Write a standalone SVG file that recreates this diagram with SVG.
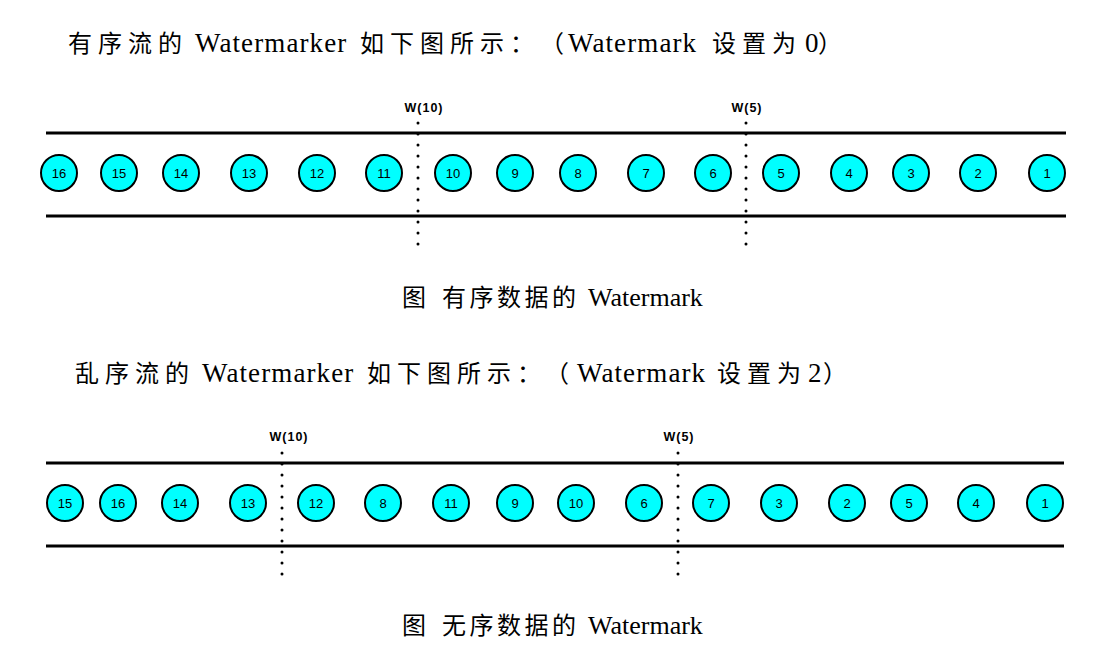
<svg xmlns="http://www.w3.org/2000/svg" width="1097" height="649" viewBox="0 0 1097 649">
<style>
.title{font-family:"Liberation Serif","Noto Sans CJK SC",serif;font-size:24px;fill:#000}
.cj{letter-spacing:6px}
.cc{letter-spacing:3.5px}
.la{font-size:27px;letter-spacing:1.1px}
.lc{font-size:26px;letter-spacing:0px}
.rail{stroke:#000;stroke-width:3}
.wm{stroke:#000;stroke-width:3;stroke-dasharray:0 11;stroke-linecap:round}
.wl{font-family:"Liberation Sans",Arial,sans-serif;font-size:12.5px;font-weight:bold;letter-spacing:1px;fill:#000;text-anchor:middle}
.ev circle{fill:#00ffff;stroke:#000;stroke-width:2}
.ev text{font-family:"Liberation Sans",Arial,sans-serif;font-size:13px;fill:#000;text-anchor:middle}
</style>
<rect width="1097" height="649" fill="#fff"/>
<text class="title" y="52"><tspan class="cj" x="68">有序流的</tspan><tspan class="la" x="195">Watermarker</tspan><tspan class="cj" x="360">如下图所示：</tspan><tspan x="540">（</tspan><tspan class="la" x="568">Watermark</tspan><tspan class="cj" x="712">设置为</tspan><tspan class="la" x="805">0</tspan><tspan x="818">）</tspan></text>
<text class="title" y="306"><tspan x="402">图</tspan><tspan class="cc" x="442">有序数据的</tspan><tspan class="lc" x="588">Watermark</tspan></text>
<text class="title" y="382"><tspan class="cj" x="75">乱序流的</tspan><tspan class="la" x="202">Watermarker</tspan><tspan class="cj" x="367">如下图所示：</tspan><tspan x="545">（</tspan><tspan class="la" x="577">Watermark</tspan><tspan class="cj" x="717">设置为</tspan><tspan class="la" x="808">2</tspan><tspan x="823">）</tspan></text>
<text class="title" y="634"><tspan x="402">图</tspan><tspan class="cc" x="442">无序数据的</tspan><tspan class="lc" x="588">Watermark</tspan></text>
<g id="connectors">
<line class="rail" x1="46" y1="133" x2="1066" y2="133"/>
<line class="rail" x1="46" y1="216" x2="1066" y2="216"/>
<line class="wm" x1="418" y1="123" x2="418" y2="246"/>
<line class="wm" x1="746" y1="123" x2="746" y2="246"/>
<line class="rail" x1="46" y1="463" x2="1064" y2="463"/>
<line class="rail" x1="46" y1="546" x2="1064" y2="546"/>
<line class="wm" x1="282" y1="453" x2="282" y2="575"/>
<line class="wm" x1="678" y1="453" x2="678" y2="575"/>
</g>
<g id="wm-top-10"><text class="wl" x="424" y="112">W(10)</text></g>
<g id="wm-top-5"><text class="wl" x="747" y="112">W(5)</text></g>
<g id="wm-bot-10"><text class="wl" x="289" y="441">W(10)</text></g>
<g id="wm-bot-5"><text class="wl" x="679" y="441">W(5)</text></g>
<g id="top-16" class="ev"><circle cx="59" cy="173" r="18"/><text x="59" y="178">16</text></g>
<g id="top-15" class="ev"><circle cx="119" cy="173" r="18"/><text x="119" y="178">15</text></g>
<g id="top-14" class="ev"><circle cx="181" cy="173" r="18"/><text x="181" y="178">14</text></g>
<g id="top-13" class="ev"><circle cx="249" cy="173" r="18"/><text x="249" y="178">13</text></g>
<g id="top-12" class="ev"><circle cx="317" cy="173" r="18"/><text x="317" y="178">12</text></g>
<g id="top-11" class="ev"><circle cx="384" cy="173" r="18"/><text x="384" y="178">11</text></g>
<g id="top-10" class="ev"><circle cx="453" cy="173" r="18"/><text x="453" y="178">10</text></g>
<g id="top-9" class="ev"><circle cx="515" cy="173" r="18"/><text x="515" y="178">9</text></g>
<g id="top-8" class="ev"><circle cx="578" cy="173" r="18"/><text x="578" y="178">8</text></g>
<g id="top-7" class="ev"><circle cx="646" cy="173" r="18"/><text x="646" y="178">7</text></g>
<g id="top-6" class="ev"><circle cx="713" cy="173" r="18"/><text x="713" y="178">6</text></g>
<g id="top-5" class="ev"><circle cx="781" cy="173" r="18"/><text x="781" y="178">5</text></g>
<g id="top-4" class="ev"><circle cx="849" cy="173" r="18"/><text x="849" y="178">4</text></g>
<g id="top-3" class="ev"><circle cx="911" cy="173" r="18"/><text x="911" y="178">3</text></g>
<g id="top-2" class="ev"><circle cx="978" cy="173" r="18"/><text x="978" y="178">2</text></g>
<g id="top-1" class="ev"><circle cx="1047" cy="173" r="18"/><text x="1047" y="178">1</text></g>
<g id="bot-15" class="ev"><circle cx="65" cy="503" r="18"/><text x="65" y="508">15</text></g>
<g id="bot-16" class="ev"><circle cx="118" cy="503" r="18"/><text x="118" y="508">16</text></g>
<g id="bot-14" class="ev"><circle cx="180" cy="503" r="18"/><text x="180" y="508">14</text></g>
<g id="bot-13" class="ev"><circle cx="248" cy="503" r="18"/><text x="248" y="508">13</text></g>
<g id="bot-12" class="ev"><circle cx="316" cy="503" r="18"/><text x="316" y="508">12</text></g>
<g id="bot-8" class="ev"><circle cx="383" cy="503" r="18"/><text x="383" y="508">8</text></g>
<g id="bot-11" class="ev"><circle cx="451" cy="503" r="18"/><text x="451" y="508">11</text></g>
<g id="bot-9" class="ev"><circle cx="515" cy="503" r="18"/><text x="515" y="508">9</text></g>
<g id="bot-10" class="ev"><circle cx="576" cy="503" r="18"/><text x="576" y="508">10</text></g>
<g id="bot-6" class="ev"><circle cx="644" cy="503" r="18"/><text x="644" y="508">6</text></g>
<g id="bot-7" class="ev"><circle cx="711" cy="503" r="18"/><text x="711" y="508">7</text></g>
<g id="bot-3" class="ev"><circle cx="779" cy="503" r="18"/><text x="779" y="508">3</text></g>
<g id="bot-2" class="ev"><circle cx="847" cy="503" r="18"/><text x="847" y="508">2</text></g>
<g id="bot-5" class="ev"><circle cx="909" cy="503" r="18"/><text x="909" y="508">5</text></g>
<g id="bot-4" class="ev"><circle cx="976" cy="503" r="18"/><text x="976" y="508">4</text></g>
<g id="bot-1" class="ev"><circle cx="1045" cy="503" r="18"/><text x="1045" y="508">1</text></g>
</svg>
